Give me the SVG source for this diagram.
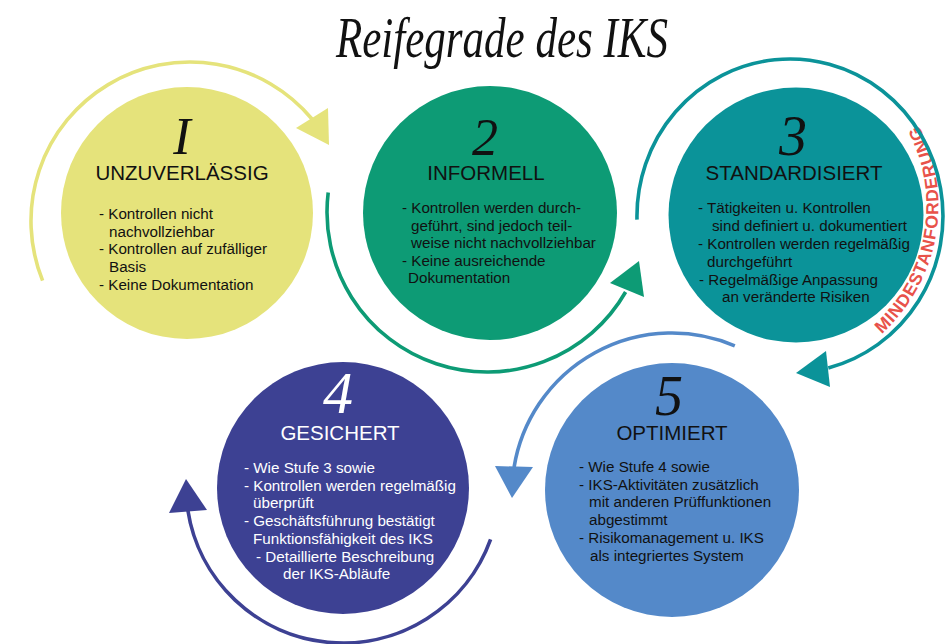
<svg xmlns="http://www.w3.org/2000/svg" width="945" height="644" viewBox="0 0 945 644">
<defs>
<style>
.title{font-family:"Liberation Serif",serif;font-style:italic;font-size:57px;fill:#111;}
.num{font-family:"Liberation Serif",serif;font-style:italic;text-anchor:middle;fill:#111;}
.head{font-family:"Liberation Sans",Arial,sans-serif;font-size:20.5px;text-anchor:middle;fill:#111;}
.body{font-family:"Liberation Sans",Arial,sans-serif;font-size:15.2px;fill:#111;}
.white{fill:#fff;}
.arc{fill:none;stroke-width:3.6;}
.mind{font-family:"Liberation Sans",Arial,sans-serif;font-weight:bold;font-size:17.5px;fill:#e8524a;}
</style>
<path id="mindPath" d="M 881.4 334.2 A 172.5 172.5 0 0 0 918.3 125"/>
</defs>
<rect width="945" height="644" fill="#fff"/>
<text class="title" x="336" y="57" textLength="332" lengthAdjust="spacingAndGlyphs">Reifegrade des IKS</text>

<g id="node1">
<circle cx="187" cy="213" r="126" fill="#e5e37b"/>
<text class="num" x="182" y="154" font-size="52">I</text>
<text class="head" x="182" y="180">UNZUVERLÄSSIG</text>
<text class="body"><tspan x="99" y="219">- Kontrollen nicht</tspan><tspan x="109" y="236.5">nachvollziehbar</tspan><tspan x="99" y="254">- Kontrollen auf zufälliger</tspan><tspan x="109" y="272">Basis</tspan><tspan x="99" y="290">- Keine Dokumentation</tspan></text>
</g>

<g id="node2">
<circle cx="490" cy="213" r="127" fill="#0d9b75"/>
<text class="num" x="485" y="155" font-size="52" font-style="normal">2</text>
<text class="head" x="486" y="180">INFORMELL</text>
<text class="body"><tspan x="402" y="213">- Kontrollen werden durch-</tspan><tspan x="411" y="230.5">geführt, sind jedoch teil-</tspan><tspan x="411" y="248">weise nicht nachvollziehbar</tspan><tspan x="402" y="266">- Keine ausreichende</tspan><tspan x="408" y="283">Dokumentation</tspan></text>
</g>

<g id="node3">
<circle cx="796" cy="215" r="127.5" fill="#0b9399"/>
<text class="num" x="793" y="155" font-size="56">3</text>
<text class="head" x="794" y="180">STANDARDISIERT</text>
<text class="body"><tspan x="698" y="213">- Tätigkeiten u. Kontrollen</tspan><tspan x="712" y="231">sind definiert u. dokumentiert</tspan><tspan x="698" y="249">- Kontrollen werden regelmäßig</tspan><tspan x="707" y="267">durchgeführt</tspan><tspan x="699" y="285">- Regelmäßige Anpassung</tspan><tspan x="722" y="302">an veränderte Risiken</tspan></text>
<text class="mind"><textPath href="#mindPath" startOffset="50%" text-anchor="middle" textLength="228">MINDESTANFORDERUNG</textPath></text>
</g>

<g id="node4">
<circle cx="343" cy="488" r="126" fill="#3d4193"/>
<text class="num white" x="338" y="413" font-size="60">4</text>
<text class="head white" x="340" y="440">GESICHERT</text>
<text class="body white"><tspan x="244" y="473">- Wie Stufe 3 sowie</tspan><tspan x="244" y="491">- Kontrollen werden regelmäßig</tspan><tspan x="253" y="508">überprüft</tspan><tspan x="244" y="526">- Geschäftsführung bestätigt</tspan><tspan x="253" y="544">Funktionsfähigkeit des IKS</tspan><tspan x="256" y="562">- Detaillierte Beschreibung</tspan><tspan x="283" y="579">der IKS-Abläufe</tspan></text>
</g>

<g id="node5">
<circle cx="672" cy="490" r="127" fill="#5489c9"/>
<text class="num" x="669" y="415" font-size="56">5</text>
<text class="head" x="672" y="440">OPTIMIERT</text>
<text class="body"><tspan x="579" y="472">- Wie Stufe 4 sowie</tspan><tspan x="579" y="489.5">- IKS-Aktivitäten zusätzlich</tspan><tspan x="589" y="507">mit anderen Prüffunktionen</tspan><tspan x="589" y="524.5">abgestimmt</tspan><tspan x="579" y="543">- Risikomanagement u. IKS</tspan><tspan x="590" y="561">als integriertes System</tspan></text>
</g>

<g id="connectors">
<path class="arc" stroke="#e5e37b" stroke-width="4" d="M 42.6 280.6 A 159 159 0 0 1 312 119"/>
<polygon fill="#e5e37b" points="296,128 328,108 329,145"/>
<path class="arc" stroke="#0d9b75" d="M 328.2 192.5 A 160 160 0 0 0 625.6 292"/>
<polygon fill="#0d9b75" points="610,283 639,261 644,297"/>
<path class="arc" stroke="#0b9399" d="M 637 219.6 A 153 157 0 1 1 828.3 368"/>
<polygon fill="#0b9399" points="796,373 826,351 830,387"/>
<path class="arc" stroke="#5489c9" stroke-width="4" d="M 734.8 345.8 A 160 160 0 0 0 514.1 467.1"/>
<polygon fill="#5489c9" points="495,466 533,467 512,498"/>
<path class="arc" stroke="#3d4193" stroke-width="4" d="M 490.6 539.4 A 157 157 0 0 1 187.8 510"/>
<polygon fill="#3d4193" points="186,479 169,513 207,510"/>
</g>
</svg>
